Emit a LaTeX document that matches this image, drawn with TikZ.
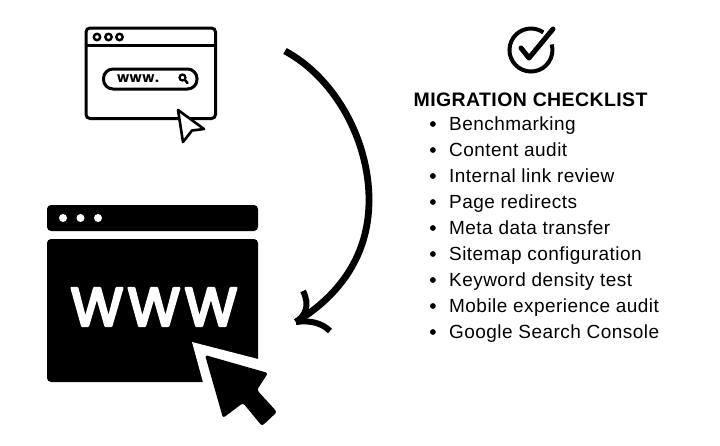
\documentclass[tikz,border=0pt]{standalone}
\usepackage{fontspec}
\usepackage{tikz}
\usetikzlibrary{positioning}
\setmainfont{Liberation Sans}[LetterSpace=2.4]
\newfontfamily\headfont{Liberation Sans}[LetterSpace=2,BoldFont={Liberation Sans Bold}]
\newfontfamily\smallwww{Poppins Bold}[LetterSpace=4]
\newfontfamily\largewww{Poppins}[FakeBold=5,LetterSpace=8]

\begin{document}
\begin{tikzpicture}[x=1pt, y=-1pt,
    outline/.style={draw=black, line width=3pt, rounded corners=4pt},
    solid/.style={fill=black, rounded corners=4pt},
    heading/.style={anchor=west, inner sep=0pt, font=\headfont\fontsize{19.5pt}{20pt}\selectfont\bfseries},
    item/.style={anchor=west, inner sep=0pt, text height=13pt, text depth=1pt, font=\fontsize{19pt}{20pt}\selectfont,
        label={[bulletdot, label distance=13pt]left:{}}},
    bulletdot/.style={circle, fill=black, inner sep=0pt, minimum size=5.8pt}]

\useasboundingbox (0,0) rectangle (720,445);

% Small browser window
\draw[outline] (86,28) rectangle (215.5,118.5);
\draw[line width=3pt] (86,45) -- (215.5,45);
\draw[line width=2.4pt] (97,37) circle (3.2);
\draw[line width=2.4pt] (108.5,37) circle (3.2);
\draw[line width=2.4pt] (119.5,37) circle (3.2);
\draw[line width=3pt, rounded corners=9.5pt] (103.5,69) rectangle (197,89);
\node[inner sep=0pt, font=\smallwww\fontsize{14pt}{16pt}\selectfont] (urltext) at (138,79) {www.};
\draw[line width=2.2pt] (182.5,77.5) circle (3);
\draw[line width=2.6pt, line cap=round] (185,80) -- (187.5,83);
\draw[fill=white, line width=2.6pt, line join=round] (178,110) -- (204,129) -- (192,130.5) -- (183,142) -- cycle;

% Large browser window
\fill[solid] (47,205) rectangle (258,231);
\fill[white] (63,218) circle (4);
\fill[white] (80.5,218) circle (4);
\fill[white] (98,218) circle (4);
\fill[solid] (47,239) rectangle (258,382);
\node[inner sep=0pt, text=white, font=\largewww\fontsize{54pt}{54pt}\selectfont] (urlbig) at (154,307) {\special{pdf:code 1 j}WWW};
\fill[white] (192,342) -- (262,360) -- (262,386) -- (204,386) -- cycle;
\fill[solid, rounded corners=2.5pt] (205,355) -- (268,373) -- (257,390) -- (277,412) -- (262,426) -- (243,403) -- (223,418) -- cycle;

% Curved arrow
\coordinate (arrowstart) at (285,51);
\coordinate (arrowend) at (296,322);
\draw[line width=6.8pt] (arrowstart) .. controls (335,78) and (369,140) .. (369,200) .. controls (369,255) and (340,295) .. (arrowend);
\draw[line width=6pt] (303,291) .. controls (310,305) and (306,315) .. (arrowend);
\draw[line width=6pt] (arrowend) .. controls (310,320) and (322,323) .. (330,331);

% Check mark
\draw[line width=4pt] (543.3,32.4) arc [start angle=-55, end angle=-375, radius=21.5];
\draw[line width=5pt, line cap=round, line join=round] (521,48) -- (529,58) -- (553,29);

% Checklist
\node[heading] (title) at (413.5,100) {MIGRATION CHECKLIST};
\node[item] (bench) at (449,124) {Benchmarking};
\node[item, below=26pt of bench.west, anchor=west] (content) {Content audit};
\node[item, below=26pt of content.west, anchor=west] (links) {Internal link review};
\node[item, below=26pt of links.west, anchor=west] (redirects) {Page redirects};
\node[item, below=26pt of redirects.west, anchor=west] (meta) {Meta data transfer};
\node[item, below=26pt of meta.west, anchor=west] (sitemap) {Sitemap configuration};
\node[item, below=26pt of sitemap.west, anchor=west] (keyword) {Keyword density test};
\node[item, below=26pt of keyword.west, anchor=west] (mobile) {Mobile experience audit};
\node[item, below=26pt of mobile.west, anchor=west] (console) {Google Search Console};

\end{tikzpicture}
\end{document}
